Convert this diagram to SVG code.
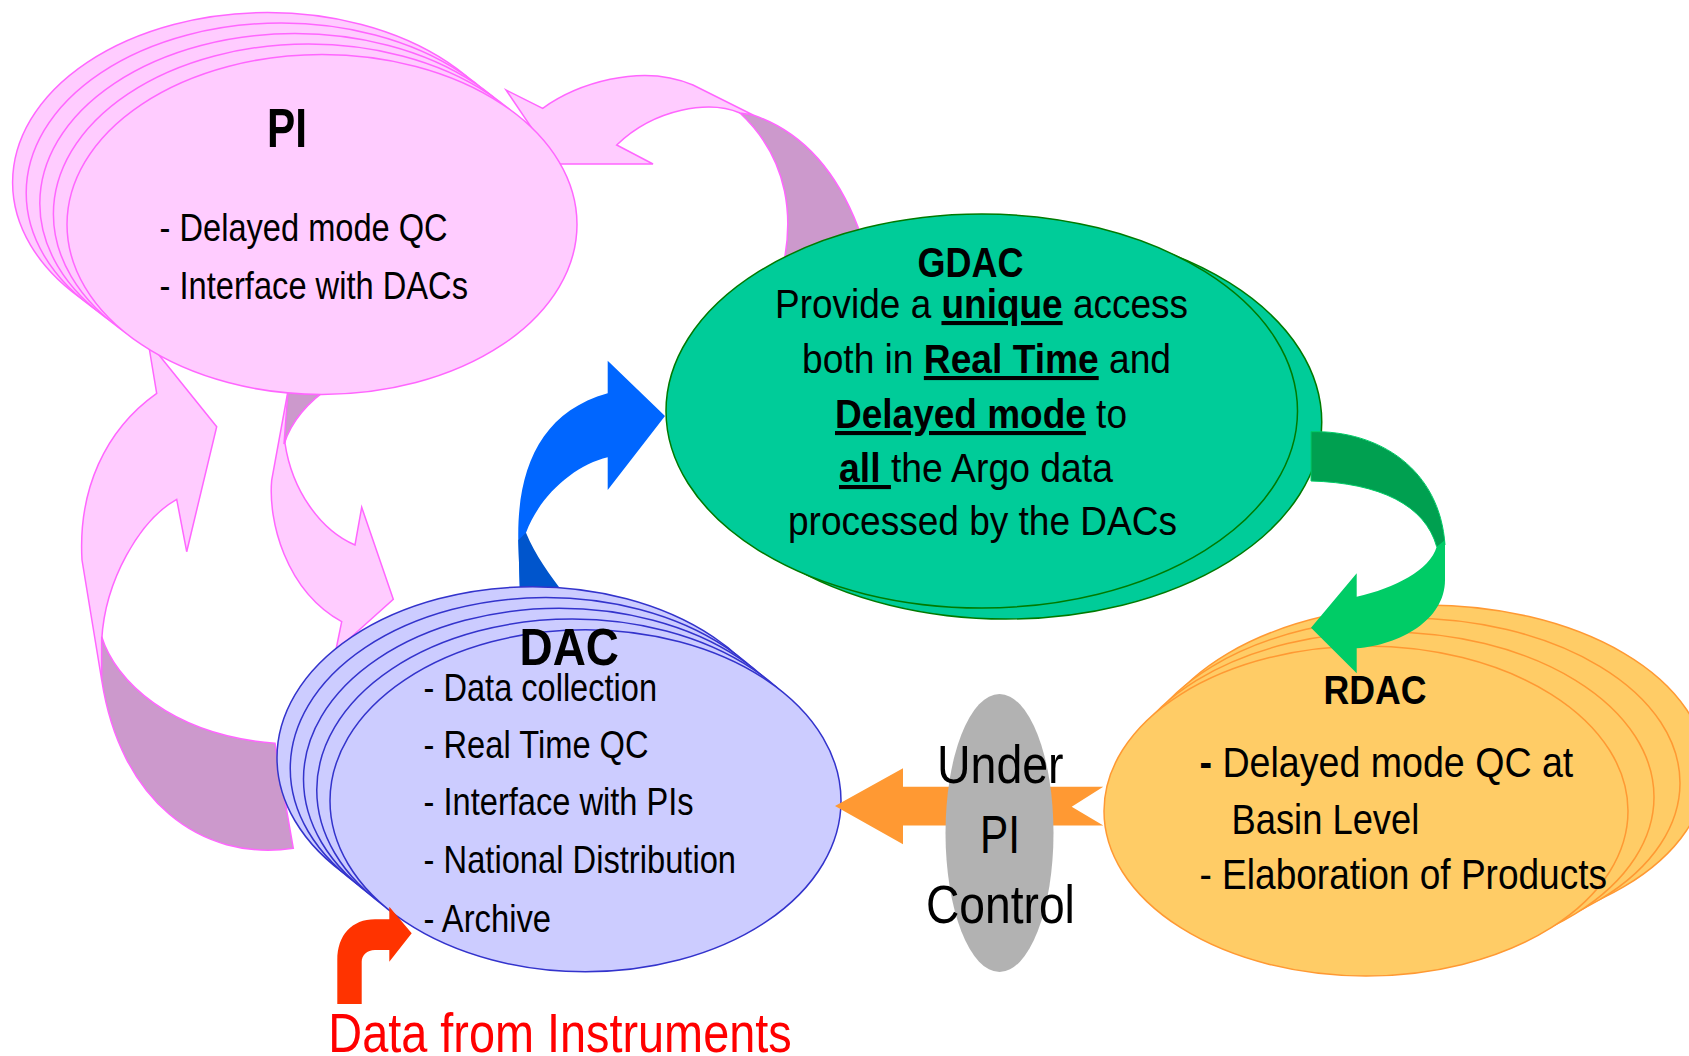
<svg xmlns="http://www.w3.org/2000/svg" width="1689" height="1056" viewBox="0 0 1689 1056">
<style>
text{font-family:"Liberation Sans Narrow","Liberation Sans",Arial,sans-serif;fill:#000;}
.ttl{font-weight:bold;}
.pk{fill:#FFCCFF;stroke:#FF66FF;stroke-width:1.5;}
.mv{fill:#CC99CC;stroke:#FF66FF;stroke-width:1.5;}
.pi{fill:#FFCCFF;stroke:#FF66FF;stroke-width:1.5;}
.dac{fill:#CCCCFF;stroke:#3333CC;stroke-width:1.5;}
.gd{fill:#00CC99;stroke:#007A00;stroke-width:1.5;}
.rd{fill:#FFCC66;stroke:#FF9933;stroke-width:1.5;}
.bu{font-weight:bold;text-decoration:underline;}
.b{font-weight:bold;}
</style>
<rect width="1689" height="1056" fill="#FFFFFF"/>
<g id="connectors">
  <g id="arrow-gdac-pi">
    <path class="mv" d="M 740 113 L 753 115 Q 824 139 858 227 L 868 275 L 781 275 C 795 220 790 160 740 113 Z"/>
    <path class="pk" d="M 542.7 108.3 C 575 85 640 62 693 85 L 753 115 L 740 113 C 710 100 655 108 616.7 145 L 653 164 L 556 164 L 506 90 Z"/>
  </g>
  <g id="arrow-dac-pi">
    <path class="pk" d="M 101.7 680 L 82 560 C 78 490 105 430 156.7 393.3 L 148 341 L 163 360 L 216.7 426.7 L 186.7 551.7 L 176.7 499.3 C 140 520 105 580 101.7 640 Z"/>
    <path class="mv" d="M 101.7 636.7 C 115 680 170 735 275 743.3 L 293.3 848.3 C 200 862 120 800 101.7 680 Z"/>
  </g>
  <g id="arrow-pi-dac">
    <path class="pk" d="M 290 380 L 271.7 480 C 268 520 285 590 341.7 621.7 L 335.7 651 L 393.3 599.3 L 361.7 507.3 L 355 545 C 320 530 292 490 285 443.3 L 292 380 Z"/>
    <path class="mv" d="M 288.5 385 L 333 385 Q 295 410 284 444 Z"/>
  </g>
</g>
<g id="node-pi">
  <ellipse class="pi" cx="267.6" cy="182.5" rx="255" ry="170"/>
  <ellipse class="pi" cx="281.2" cy="193" rx="255" ry="170"/>
  <ellipse class="pi" cx="294.8" cy="203.5" rx="255" ry="170"/>
  <ellipse class="pi" cx="308.4" cy="214" rx="255" ry="170"/>
  <ellipse class="pi" cx="322" cy="224.5" rx="255" ry="170"/>
  <text class="ttl" x="267" y="146.7" font-size="56" textLength="40" lengthAdjust="spacingAndGlyphs">PI</text>
  <text x="159.6" y="240.7" font-size="39" textLength="288" lengthAdjust="spacingAndGlyphs">- Delayed mode QC</text>
  <text x="159.6" y="299" font-size="39" textLength="308.4" lengthAdjust="spacingAndGlyphs">- Interface with DACs</text>
</g>
<g id="arrow-dac-gdac">
  <path fill="#0066FF" d="M 520 595 L 518.3 540 C 517 470 540 412 607.7 393.3 L 607.7 360.7 L 665 416 L 607.7 490 L 607.7 457.3 C 575 465 540 495 526 532.7 Z"/>
  <path fill="#0055CC" d="M 526 532.7 C 535 555 550 575 565 595 L 520 595 L 518.3 540 Z"/>
</g>
<g id="node-gdac">
  <ellipse class="gd" cx="1006" cy="422" rx="315.75" ry="197"/>
  <ellipse class="gd" cx="981.75" cy="411" rx="315.75" ry="197"/>
  <text class="ttl" x="917.5" y="277.3" font-size="43" textLength="106" lengthAdjust="spacingAndGlyphs">GDAC</text>
  <text x="775" y="318" font-size="41" textLength="413" lengthAdjust="spacingAndGlyphs">Provide a <tspan class="bu">unique</tspan> access</text>
  <text x="802" y="373" font-size="41" textLength="369" lengthAdjust="spacingAndGlyphs">both in <tspan class="bu">Real Time</tspan> and</text>
  <text x="835" y="428" font-size="41" textLength="292" lengthAdjust="spacingAndGlyphs"><tspan class="bu">Delayed mode</tspan> to</text>
  <text x="839" y="482" font-size="41" textLength="274" lengthAdjust="spacingAndGlyphs"><tspan class="bu">all </tspan>the Argo data</text>
  <text x="788" y="535" font-size="41" textLength="389" lengthAdjust="spacingAndGlyphs">processed by the DACs</text>
</g>
<g id="node-dac">
  <ellipse class="dac" cx="532.5" cy="757.8" rx="255.5" ry="171"/>
  <ellipse class="dac" cx="545.75" cy="768.55" rx="255.5" ry="171"/>
  <ellipse class="dac" cx="559" cy="779.3" rx="255.5" ry="171"/>
  <ellipse class="dac" cx="572.25" cy="790.05" rx="255.5" ry="171"/>
  <ellipse class="dac" cx="585.5" cy="800.8" rx="255.5" ry="171"/>
  <text class="ttl" x="519.5" y="665.3" font-size="52" textLength="99.5" lengthAdjust="spacingAndGlyphs">DAC</text>
  <text x="423.6" y="700.5" font-size="39" textLength="233.4" lengthAdjust="spacingAndGlyphs">- Data collection</text>
  <text x="423.6" y="757.7" font-size="39" textLength="225" lengthAdjust="spacingAndGlyphs">- Real Time QC</text>
  <text x="423.6" y="815" font-size="39" textLength="270" lengthAdjust="spacingAndGlyphs">- Interface with PIs</text>
  <text x="423.6" y="873" font-size="39" textLength="312.4" lengthAdjust="spacingAndGlyphs">- National Distribution</text>
  <text x="423.6" y="932" font-size="39" textLength="127.4" lengthAdjust="spacingAndGlyphs">- Archive</text>
</g>
<g id="node-rdac">
  <ellipse class="rd" cx="1426" cy="770" rx="280" ry="165"/>
  <ellipse class="rd" cx="1406" cy="783" rx="274" ry="165"/>
  <ellipse class="rd" cx="1386" cy="797" rx="268" ry="165"/>
  <ellipse class="rd" cx="1366" cy="811" rx="262" ry="165"/>
  <text class="ttl" x="1323.5" y="704" font-size="41" textLength="103" lengthAdjust="spacingAndGlyphs">RDAC</text>
  <text x="1199.5" y="777.3" font-size="43" textLength="373.8" lengthAdjust="spacingAndGlyphs"><tspan class="b">-</tspan> Delayed mode QC at</text>
  <text x="1231.5" y="834" font-size="43" textLength="187.8" lengthAdjust="spacingAndGlyphs">Basin Level</text>
  <text x="1199.5" y="889.3" font-size="43" textLength="407.5" lengthAdjust="spacingAndGlyphs">- Elaboration of Products</text>
</g>
<g id="arrow-gdac-rdac">
  <path fill="#00A050" stroke="#00CC66" stroke-width="1" d="M 1311 431.7 C 1380 430 1440 470 1445 545 L 1436.7 546.7 C 1425 505 1380 483 1311 481 Z"/>
  <path fill="#00CC66" d="M 1445 540 L 1445 580 C 1445 620 1400 645 1356.7 648.3 L 1356.7 673.3 L 1311 627.7 L 1356.7 573.3 L 1356.7 596.7 C 1395 588 1430 570 1436.7 546.7 Z"/>
</g>
<g id="arrow-rdac-dac">
  <path fill="#FF9933" d="M 835 806 L 903 768.3 L 903 786.7 L 1103.3 786.7 L 1071.7 806.7 L 1103.3 825.5 L 903 825.5 L 903 844.3 Z"/>
</g>
<g id="node-control">
  <ellipse cx="999.5" cy="833" rx="54" ry="139" fill="#B2B2B2"/>
  <text x="937" y="783" font-size="53" textLength="126.6" lengthAdjust="spacingAndGlyphs">Under</text>
  <text x="980" y="853" font-size="53" textLength="40" lengthAdjust="spacingAndGlyphs">PI</text>
  <text x="925.9" y="923" font-size="53" textLength="149" lengthAdjust="spacingAndGlyphs">Control</text>
</g>
<g id="node-instruments">
  <path fill="#FF3300" d="M 337.3 1004 L 337.3 960 C 337.3 935 352 919.3 375 919.3 L 389.3 919.3 L 389.3 906.7 L 411.7 933.3 L 389.3 961.7 L 389.3 950 L 375 950 C 367 950 361.7 955 361.7 962 L 361.7 1004 Z"/>
  <text x="328.3" y="1051.7" font-size="55" textLength="463.4" lengthAdjust="spacingAndGlyphs" style="fill:#FF0000">Data from Instruments</text>
</g>
</svg>
